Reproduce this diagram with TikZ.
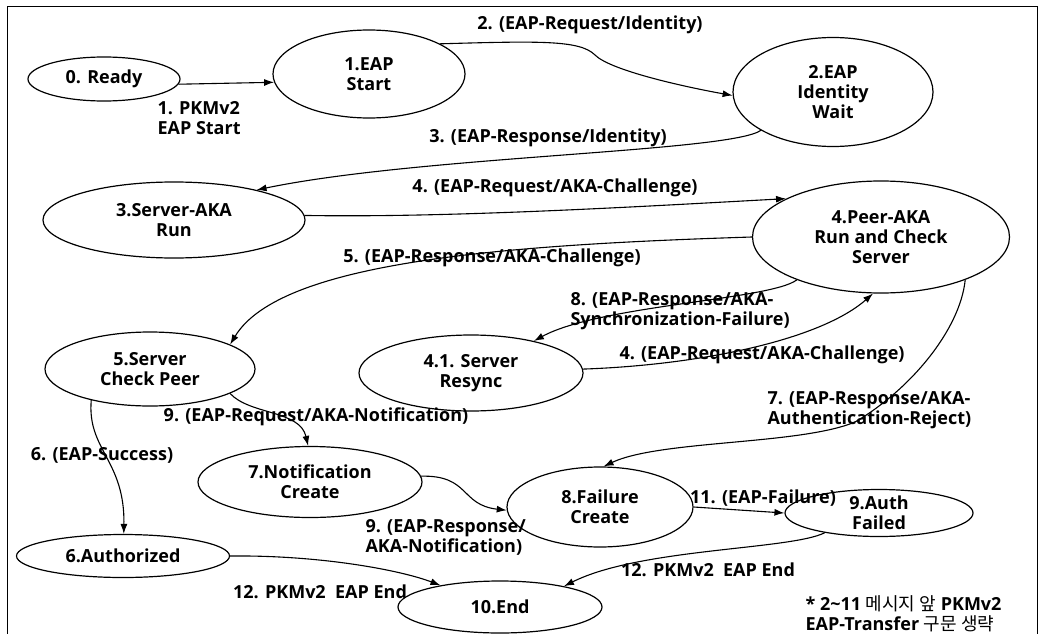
\documentclass[tikz,border=0pt]{standalone}
\usepackage{fontspec}
\setmainfont{Open Sans}
\newfontfamily\krfont{Noto Sans CJK KR}
\usetikzlibrary{shapes.geometric,arrows.meta}

\begin{document}
\begin{tikzpicture}[x=1pt, y=1pt,
      state/.style={draw, ellipse, line width=1.2pt, inner sep=0pt, align=center},
      msg/.style={align=left, inner sep=0pt},
      sz/.style 2 args={minimum width=#1pt, minimum height=#2pt},
      >={Latex[length=10pt,width=7pt]}, line width=1.1pt,
      font=\fontsize{18}{20}\selectfont\bfseries]
    \useasboundingbox (0,0) rectangle (1038,-634);
    \draw[line width=1pt] (7,-640) -- (7,-7) -- (1037,-7) -- (1037,-640);

    % states
    \node[state, sz={152}{44}] (ready) at (104,-79) {0. Ready};
    \node[state, sz={192}{88}] (start) at (369,-74) {1.EAP\\Start};
    \node[state, sz={200}{109}] (idwait) at (833,-92) {2.EAP\\Identity\\Wait};
    \node[state, sz={262}{76}] (srvaka) at (174,-220) {3.Server-AKA\\Run};
    \node[state, sz={257}{112}] (peer) at (881,-237) {4.Peer-AKA\\Run and Check\\Server};
    \node[state, sz={210}{74}] (chkpeer) at (150,-369) {5.Server\\Check Peer};
    \node[state, sz={224}{76}] (resync) at (471,-373) {4.1. Server\\Resync};
    \node[state, sz={224}{71}] (notif) at (310,-482) {7.Notification\\Create};
    \node[state, sz={213}{43}] (authd) at (123,-556) {6.Authorized};
    \node[state, sz={186}{80}] (fail) at (600,-507) {8.Failure\\Create};
    \node[state, sz={188}{47}, inner ysep=-3pt] (authfail) at (879,-513) {9.Auth\\Failed};
    \node[state, sz={204}{52}] (fin) at (500,-607) {10.End};

    % messages
    \node[msg, anchor=west] (l1) at (157,-118) {1. PKMv2\\EAP Start};
    \node[msg] (l2) at (590,-25) {2. (EAP-Request/Identity)};
    \node[msg] (l3) at (548,-138) {3. (EAP-Response/Identity)};
    \node[msg] (l4) at (555,-188) {4. (EAP-Request/AKA-Challenge)};
    \node[msg] (l5) at (492,-258) {5. (EAP-Response/AKA-Challenge)};
    \node[msg, anchor=west] (l8) at (570,-311) {8. (EAP-Response/AKA-\\Synchronization-Failure)};
    \node[msg] (l4b) at (762,-355) {4. (EAP-Request/AKA-Challenge)};
    \node[msg, anchor=west] (l7) at (767,-410) {7. (EAP-Response/AKA-\\Authentication-Reject)};
    \node[msg] (l9) at (316,-417) {9. (EAP-Request/AKA-Notification)};
    \node[msg] (l6) at (102,-455) {6. (EAP-Success)};
    \node[msg, anchor=west] (l9b) at (365,-537) {9. (EAP-Response/\\AKA-Notification)};
    \node[msg] (l11) at (763,-498) {11. (EAP-Failure)};
    \node[msg] (l12a) at (708,-570) {12. PKMv2~~EAP End};
    \node[msg] (l12b) at (320,-592) {12. PKMv2~~EAP End};
    \node[msg, anchor=west] (note) at (805,-614)
      {* 2\textasciitilde 11 {\krfont\mdseries 메시지 앞} PKMv2\\EAP-Transfer {\krfont\mdseries 구문 생략}};

    % transitions
    \draw[->] (ready.-4) -- (start.185);
    \draw[->] (start.23) .. controls (540,-41) and (580,-40) .. (595,-55)
      .. controls (610,-70) and (680,-86) .. (idwait.182);
    \draw[->] (idwait.208) .. controls (730,-152) and (420,-156) .. (srvaka.20);
    \draw[->] (srvaka.2) .. controls (450,-218) and (650,-206) .. (peer.158);
    \draw[->] (peer.180) .. controls (500,-245) and (280,-262) .. (chkpeer.17);
    \draw[->] (peer.207) .. controls (770,-300) and (600,-305) .. (resync.27);
    \draw[->] (resync.2) .. controls (700,-365) and (820,-340) .. (peer.262);
    \draw[->] (peer.-27) .. controls (960,-330) and (910,-390) .. (855,-422)
      .. controls (800,-445) and (660,-440) .. (fail.85);
    \draw[->] (chkpeer.-17) .. controls (250,-415) and (300,-410) .. (notif.93);
    \draw[->] (chkpeer.208) .. controls (87,-450) and (125,-460) .. (authd.88);
    \draw[->] (notif.3) .. controls (470,-475) and (460,-505) .. (fail.182);
    \draw[->] (fail.east) -- (authfail.west);
    \draw[->] (authfail.200) .. controls (790,-550) and (640,-548) .. (fin.18);
    \draw[->] (authd.east) .. controls (320,-555) and (400,-570) .. (fin.160);
\end{tikzpicture}
\end{document}
